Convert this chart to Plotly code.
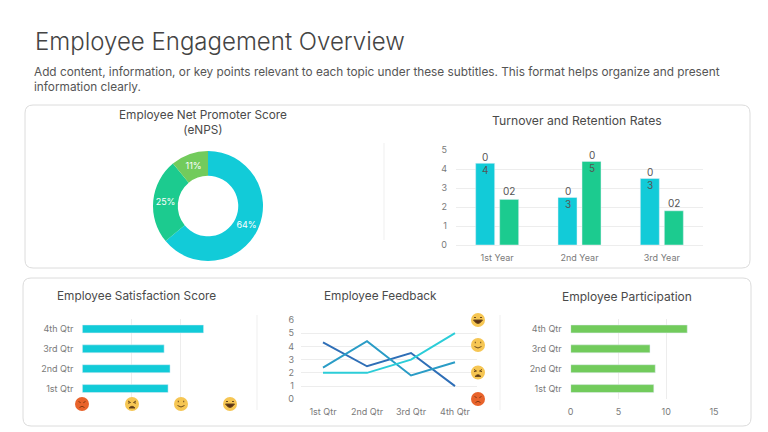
import plotly.graph_objects as go

FONT = "Inter"
W, H = 768, 432

# data
enps_labels = ["Promoters", "Passives", "Detractors"]
enps_values = [64, 25, 11]

years = ["1st Year", "2nd Year", "3rd Year"]
turnover = [4.3, 2.5, 3.5]
retention = [2.4, 4.4, 1.8]
turnover_text = ["0<br>4", "0<br>3", "0<br>3"]
retention_text = ["02", "0<br>5", "02"]

quarters = ["1st Qtr", "2nd Qtr", "3rd Qtr", "4th Qtr"]
satisfaction = [1.74, 1.78, 1.66, 2.46]
feedback_a = [4.3, 2.5, 3.5, 1.0]
feedback_b = [2.4, 4.4, 1.8, 2.8]
feedback_c = [2.0, 2.0, 3.0, 5.0]
participation = [8.7, 8.85, 8.3, 12.2]

CYAN = "#12CBD8"
GREEN = "#1CCB8F"
LIME = "#72CB5C"
GRID = "#EDEDED"
TICK = "#7A7A7A"
TITLE = "#4A4A4A"


def px(x):
    return x / W


def py(y):
    return 1 - y / H


def xdom(a, b):
    return [px(a), px(b)]


def ydom(top, bottom):
    return [py(bottom), py(top)]


def rounded_box(x0, y0, x1, y1, r=8):
    p = (
        f"M {px(x0 + r)} {py(y0)} L {px(x1 - r)} {py(y0)} "
        f"Q {px(x1)} {py(y0)} {px(x1)} {py(y0 + r)} L {px(x1)} {py(y1 - r)} "
        f"Q {px(x1)} {py(y1)} {px(x1 - r)} {py(y1)} L {px(x0 + r)} {py(y1)} "
        f"Q {px(x0)} {py(y1)} {px(x0)} {py(y1 - r)} L {px(x0)} {py(y0 + r)} "
        f"Q {px(x0)} {py(y0)} {px(x0 + r)} {py(y0)} Z"
    )
    return dict(type="path", path=p, xref="paper", yref="paper",
                line=dict(color="#DCDCDC", width=1), fillcolor="white", layer="below")


def vline(x, y0, y1):
    return dict(type="line", xref="paper", yref="paper", x0=px(x), x1=px(x), y0=py(y0), y1=py(y1),
                line=dict(color="#EFEFEF", width=1), layer="below")


def emoji(cx, cy, kind, r=7):
    # little face icons drawn from shapes
    face = "#E8632B" if kind == "angry" else "#F6C653"
    ink = "#8A3A12" if kind == "angry" else "#6B4A1E"
    out = [dict(type="circle", xref="paper", yref="paper", x0=px(cx - r), x1=px(cx + r),
                y0=py(cy + r), y1=py(cy - r), fillcolor=face, line=dict(width=0))]

    def path(d, fill="rgba(0,0,0,0)", width=1):
        pts = []
        for tok in d:
            if isinstance(tok, str):
                pts.append(tok)
            else:
                pts.append(f"{px(cx + tok[0])} {py(cy + tok[1])}")
        out.append(dict(type="path", path=" ".join(pts), xref="paper", yref="paper",
                        fillcolor=fill, line=dict(color=ink, width=width)))

    if kind == "laugh":
        path(["M", (-4, -2.5), "L", (-2, -2.5)])
        path(["M", (2, -2.5), "L", (4, -2.5)])
        path(["M", (-4.5, 0), "L", (4.5, 0), "Q", (0, 7), (-4.5, 0), "Z"], fill="#5A2E14")
    elif kind == "smile":
        path(["M", (-3.2, -2.5), "L", (-2.2, -2.5)], width=1.5)
        path(["M", (2.2, -2.5), "L", (3.2, -2.5)], width=1.5)
        path(["M", (-3.5, 1.5), "Q", (0, 4.5), (3.5, 1.5)])
    elif kind == "sad":
        path(["M", (-4, -3), "L", (-1.5, -1.5), "L", (-4, -0.8)])
        path(["M", (4, -3), "L", (1.5, -1.5), "L", (4, -0.8)])
        path(["M", (-3, 4), "Q", (0, 0.5), (3, 4), "Z"], fill="#5A2E14")
    else:
        path(["M", (-3.5, -2.5), "L", (-1.3, -1.3)])
        path(["M", (3.5, -2.5), "L", (1.3, -1.3)])
        path(["M", (-2.5, 3.5), "Q", (0, 1), (2.5, 3.5)])
    return out


def label(x, y, text, size=11.8, color=TITLE, anchor="center", align="center", weight=400):
    return dict(xref="paper", yref="paper", x=px(x), y=py(y), text=text, showarrow=False,
                xanchor=anchor, yanchor="middle", align=align,
                font=dict(family=FONT, size=size, color=color, weight=weight))


fig = go.Figure()

fig.add_trace(go.Pie(
    labels=enps_labels, values=enps_values, hole=0.55, sort=False, direction="clockwise", rotation=0,
    marker=dict(colors=[CYAN, GREEN, LIME]), textinfo="percent", textposition="inside",
    insidetextorientation="horizontal", texttemplate="%{value}%",
    textfont=dict(family=FONT, size=9, color="white"),
    domain=dict(x=xdom(153, 263), y=ydom(151, 261)), showlegend=False,
))

fig.add_trace(go.Bar(x=years, y=turnover, marker_color=CYAN, xaxis="x", yaxis="y", showlegend=False))
fig.add_trace(go.Bar(x=years, y=retention, marker_color=GREEN, xaxis="x", yaxis="y", showlegend=False))

fig.add_trace(go.Bar(y=quarters, x=satisfaction, orientation="h", marker_color=CYAN,
                     xaxis="x2", yaxis="y2", showlegend=False))

for vals, col in zip([feedback_a, feedback_b, feedback_c], ["#2F6FB7", "#2A9CC6", "#2CCDD8"]):
    fig.add_trace(go.Scatter(x=quarters, y=vals, mode="lines", line=dict(color=col, width=2),
                             xaxis="x3", yaxis="y3", showlegend=False))

fig.add_trace(go.Bar(y=quarters, x=participation, orientation="h", marker_color=LIME,
                     xaxis="x4", yaxis="y4", showlegend=False))

tick_font = dict(family=FONT, size=9, color=TICK)
shapes = [
    rounded_box(25, 105, 750, 268),
    rounded_box(23, 278, 751, 426),
    vline(384, 143, 240),
    vline(257, 315, 410),
    vline(500, 315, 410),
]
for cx, kind in zip([82, 132, 181, 230], ["angry", "sad", "smile", "laugh"]):
    shapes += emoji(cx, 404, kind)
for cy, kind in zip([320, 345, 372.5, 399], ["laugh", "smile", "sad", "angry"]):
    shapes += emoji(478, cy, kind)

annotations = [
    label(32.5, 41, "Employee Engagement Overview", size=24, color="#444444", anchor="left", weight=300),
    label(31.5, 79.5, "Add content, information, or key points relevant to each topic under these subtitles. "
          "This format helps organize and present<br>information clearly.",
          size=11.8, color="#555555", anchor="left", align="left"),
    label(203, 122, "Employee Net Promoter Score<br>(eNPS)"),
    label(577, 120, "Turnover and Retention Rates", size=12.2),
    label(136, 296, "Employee Satisfaction Score"),
    label(380, 296, "Employee Feedback"),
    label(626.5, 296, "Employee Participation", size=12),
]

# wrapped data labels on the grouped bars
for vals, texts, shift in [(turnover, turnover_text, -12), (retention, retention_text, 12)]:
    for yr, v, t in zip(years, vals, texts):
        two_line = "<br>" in t
        annotations.append(dict(
            xref="x", yref="y", x=yr, y=v, text=t, showarrow=False, xshift=shift,
            yanchor="middle" if two_line else "bottom",
            font=dict(family=FONT, size=10, color="#555555"),
        ))

fig.update_layout(
    width=W, height=H, margin=dict(l=0, r=0, t=0, b=0), autosize=False,
    paper_bgcolor="white", plot_bgcolor="rgba(0,0,0,0)", font=dict(family=FONT),
    barmode="group", bargap=0.417, bargroupgap=0.208,
    shapes=shapes, annotations=annotations,
    xaxis=dict(domain=xdom(456, 703), anchor="y", showgrid=False, tickfont=tick_font,
               linecolor=GRID, showline=True, ticks="", ticklabelstandoff=4),
    yaxis=dict(domain=ydom(150, 245), anchor="x", range=[0, 5], dtick=1, gridcolor=GRID, tickfont=tick_font,
               zeroline=False, ticks="", ticklabelstandoff=8),
    xaxis2=dict(domain=xdom(82.3, 230.2), anchor="y2", range=[0, 3], dtick=1, gridcolor=GRID,
                showticklabels=False, zeroline=False),
    yaxis2=dict(domain=ydom(319, 398.5), anchor="x2", categoryorder="array", categoryarray=quarters,
                tickfont=tick_font, showgrid=False, ticks="", ticklabelstandoff=8),
    xaxis3=dict(domain=xdom(301, 477), anchor="y3", range=[-0.5, 3.5], showgrid=False, tickfont=tick_font,
                ticks="", ticklabelstandoff=6),
    yaxis3=dict(domain=ydom(320, 399.3), anchor="x3", range=[0, 6], dtick=1, gridcolor=GRID, tickfont=tick_font,
                zeroline=False, ticks="", ticklabelstandoff=6),
    xaxis4=dict(domain=xdom(570.7, 714), anchor="y4", range=[0, 15], dtick=5, gridcolor=GRID, tickfont=tick_font,
                zeroline=False, ticks="", ticklabelstandoff=6),
    yaxis4=dict(domain=ydom(319, 398.5), anchor="x4", categoryorder="array", categoryarray=quarters,
                tickfont=tick_font, showgrid=False, ticks="", ticklabelstandoff=8),
)
fig.update_xaxes(automargin=False)
fig.update_yaxes(automargin=False)
# horizontal charts use their own gap; plotly has one gap per layout, so thin them here
fig.update_traces(width=0.4, selector=dict(orientation="h"))

fig.write_html("out.html", config=dict(displayModeBar=False), post_script="document.body.style.margin='0';")
